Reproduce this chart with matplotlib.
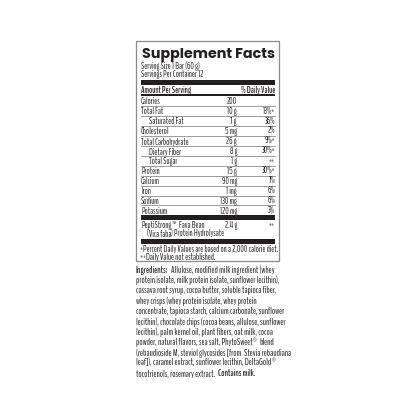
import matplotlib
matplotlib.use("Agg")
import matplotlib.pyplot as plt
from matplotlib import font_manager as fm
from matplotlib.ft2font import FT2Font
from matplotlib.patches import Rectangle

# ---------------- data ----------------
title = "Supplement Facts"
serving_lines = ["Serving Size 1 Bar (60 g)", "Servings Per Container 12"]
header_left = "Amount Per Serving"
header_right = "% Daily Value"
nutrients = ["Calories", "Total Fat", "Saturated Fat", "Cholesterol",
             "Total Carbohydrate", "Dietary Fiber", "Total Sugar", "Protein",
             "Calcium", "Iron", "Sodium", "Potassium"]
amounts = ["200", "10 g", "7 g", "5 mg", "26 g", "8 g", "1 g", "15 g",
           "90 mg", "1 mg", "130 mg", "120 mg"]
daily_values = ["", "13%*", "36%", "2%", "9%*", "30%*", "**", "30%*",
                "7%", "6%", "6%", "3%"]
indented = [0, 0, 1, 0, 0, 1, 1, 0, 0, 0, 0, 0]
extra_amount = "2.4 g"
extra_dv = "**"
footnotes = ["*Percent Daily Values are based on a 2,000 calorie diet.",
             "**Daily Value not established."]

N, B, I = "n", "b", "i"
ingredient_lines = [
    [("Ingredients:", B), (" Allulose, modified milk ingredient (whey", N)],
    [("protein isolate, milk protein isolate, sunflower lecithin),", N)],
    [("cassava root syrup, cocoa butter, soluble tapioca fiber,", N)],
    [("whey crisps (whey protein isolate, whey protein", N)],
    [("concentrate, tapioca starch, calcium carbonate, sunflower", N)],
    [("lecithin), chocolate chips (cocoa beans, allulose, sunflower", N)],
    [("lecithin), palm kernel oil, plant fibers, oat milk, cocoa", N)],
    [("powder, natural flavors, sea salt, PhytoSweet", N), ("®", "sup"), (" blend", N)],
    [("(rebaudioside M, steviol glycosides [from ", N), ("Stevia rebaudiana", I)],
    [("leaf]), caramel extract, sunflower lecithin, DeltaGold", N), ("®", "sup")],
    [("tocotrienols, rosemary extract. ", N), ("Contains milk.", B)],
]

# ---------------- fonts ----------------
by = {}
for f in fm.fontManager.ttflist:
    by.setdefault(f.name, []).append(f)


def static(name, weights):
    return [f for f in by.get(name, []) if f.style == "normal" and f.weight in weights and "[" not in f.fname]


def ratio(path, text):
    try:
        ft = FT2Font(path)
        ft.set_size(50, 72)
        ft.set_text(text, 0.0)
        w = ft.get_width_height()[0] / 64
        g = ft.load_char(ord("H"))
        return w / (g.height / 64)
    except Exception:
        return None


cands = ["BenchNine", "Economica", "PT Sans Narrow", "Fira Sans Extra Condensed",
         "Sofia Sans Extra Condensed", "Encode Sans Compressed", "Saira Extra Condensed",
         "Barlow Condensed", "Roboto Condensed", "Open Sans Condensed", "Asap Condensed",
         "Archivo Narrow", "Liberation Sans Narrow"]
scored = []
for c in cands:
    reg = static(c, (400, "normal", "regular"))
    bold = static(c, (600, 700, "bold", "semibold"))
    if reg:
        rt = ratio(reg[0].fname, "Total Carbohydrate")
        if rt:
            scored.append((abs(rt - 7.6) + (0 if bold else 5), c))
scored.sort()
body_family = scored[0][1] if scored else "DejaVu Sans"
title_family = "Poppins" if static("Poppins", (700, "bold")) else "DejaVu Sans"
INK = "#231f20"
GRAY = "#8a8a8a"

# ---------------- setup ----------------
W = 416
fig = plt.figure(figsize=(4.16, 4.16), dpi=100)
ax = fig.add_axes([0, 0, 1, 1])
ax.set_xlim(0, W)
ax.set_ylim(W, 0)
ax.axis("off")
r = fig.canvas.get_renderer()


def width(text, size, family, weight="normal", style="normal"):
    t = ax.text(0, 0, text, fontsize=size, family=family, weight=weight, style=style)
    w = t.get_window_extent(r).width
    t.remove()
    return w


def fit(text, target, family, weight="normal"):
    return 10 * target / width(text, 10, family, weight)


body = fit(footnotes[0], 137, body_family)
ingr = fit("lecithin), chocolate chips (cocoa beans, allulose, sunflower", 148, body_family)
tsize = fit(title, 133, title_family, "bold")


def base(yc, size):
    return yc + 0.36 * size * 100 / 72


def put(x, yc, text, size=None, ha="left", weight="normal", style="normal", family=None):
    size = size or body
    return ax.text(x, base(yc, size), text, fontsize=size, ha=ha, va="baseline",
                   weight=weight, style=style, family=family or body_family, color=INK)


def runs(x, yc, parts, size=None):
    size = size or body
    sp = (width("a" + " " * 10 + "a", size, body_family) - width("aa", size, body_family)) / 10
    sp = max(sp, 0.28 * size * 100 / 72)
    for txt, kind in parts:
        lead = len(txt) - len(txt.lstrip())
        trail = len(txt) - len(txt.rstrip())
        x += lead * sp
        core = txt.strip()
        if kind == "sup":
            t = ax.text(x + 0.3, base(yc, size) - 0.35 * size * 100 / 72, core,
                        fontsize=size * 0.6, va="baseline", family=body_family, color=INK)
        else:
            t = put(x, yc, core, size,
                    weight="bold" if kind == B else "normal",
                    style="italic" if kind == I else "normal")
        x += t.get_window_extent(r).width + trail * sp + (0.6 if kind == "sup" else 0)


# ---------------- box ----------------
ax.add_patch(Rectangle((136, 41), 143, 220, fill=False, ec=GRAY, lw=0.9))
L, R, AMT = 141, 275, 237

ax.text(208, 57.5, title, fontsize=tsize, ha="center", va="baseline",
        weight="bold", family=title_family, color=INK)
put(L, 66, serving_lines[0])
put(L, 74, serving_lines[1])
ax.add_patch(Rectangle((L, 79.5), R - L, 5.5, color=INK, lw=0))
put(L, 89.5, header_left, weight="bold")
put(R, 89.5, header_right, ha="right", weight="bold")
ax.add_patch(Rectangle((L, 93.8), R - L, 2.4, color=INK, lw=0))

y0, step = 101.0, 9.95
for i, (name, amt, dv, ind) in enumerate(zip(nutrients, amounts, daily_values, indented)):
    yc = y0 + i * step
    put(L + 8 * ind, yc, name)
    put(AMT, yc, amt, ha="right")
    if dv:
        put(R, yc, dv, ha="right")
    if i < len(nutrients) - 1:
        ax.plot([L, R], [yc + step / 2, yc + step / 2], color=GRAY, lw=0.6)

ax.add_patch(Rectangle((L, 215), R - L, 5.2, color=INK, lw=0))
runs(L, 225, [("PeptiStrong", N), ("™", "sup"), (" Fava Bean", N)])
put(AMT, 225, extra_amount, ha="right")
put(R, 225, extra_dv, ha="right")
runs(L + 6, 233.5, [("(", N), ("Vica faba", I), (") Protein Hydrolysate", N)])
ax.add_patch(Rectangle((L, 238.8), R - L, 5.2, color=INK, lw=0))
put(L - 1, 248.5, footnotes[0])
put(L - 1, 256, footnotes[1])

for k, parts in enumerate(ingredient_lines):
    runs(136, 269.5 + k * 10.35, parts, size=ingr)

fig.savefig("out.png", dpi=100)
